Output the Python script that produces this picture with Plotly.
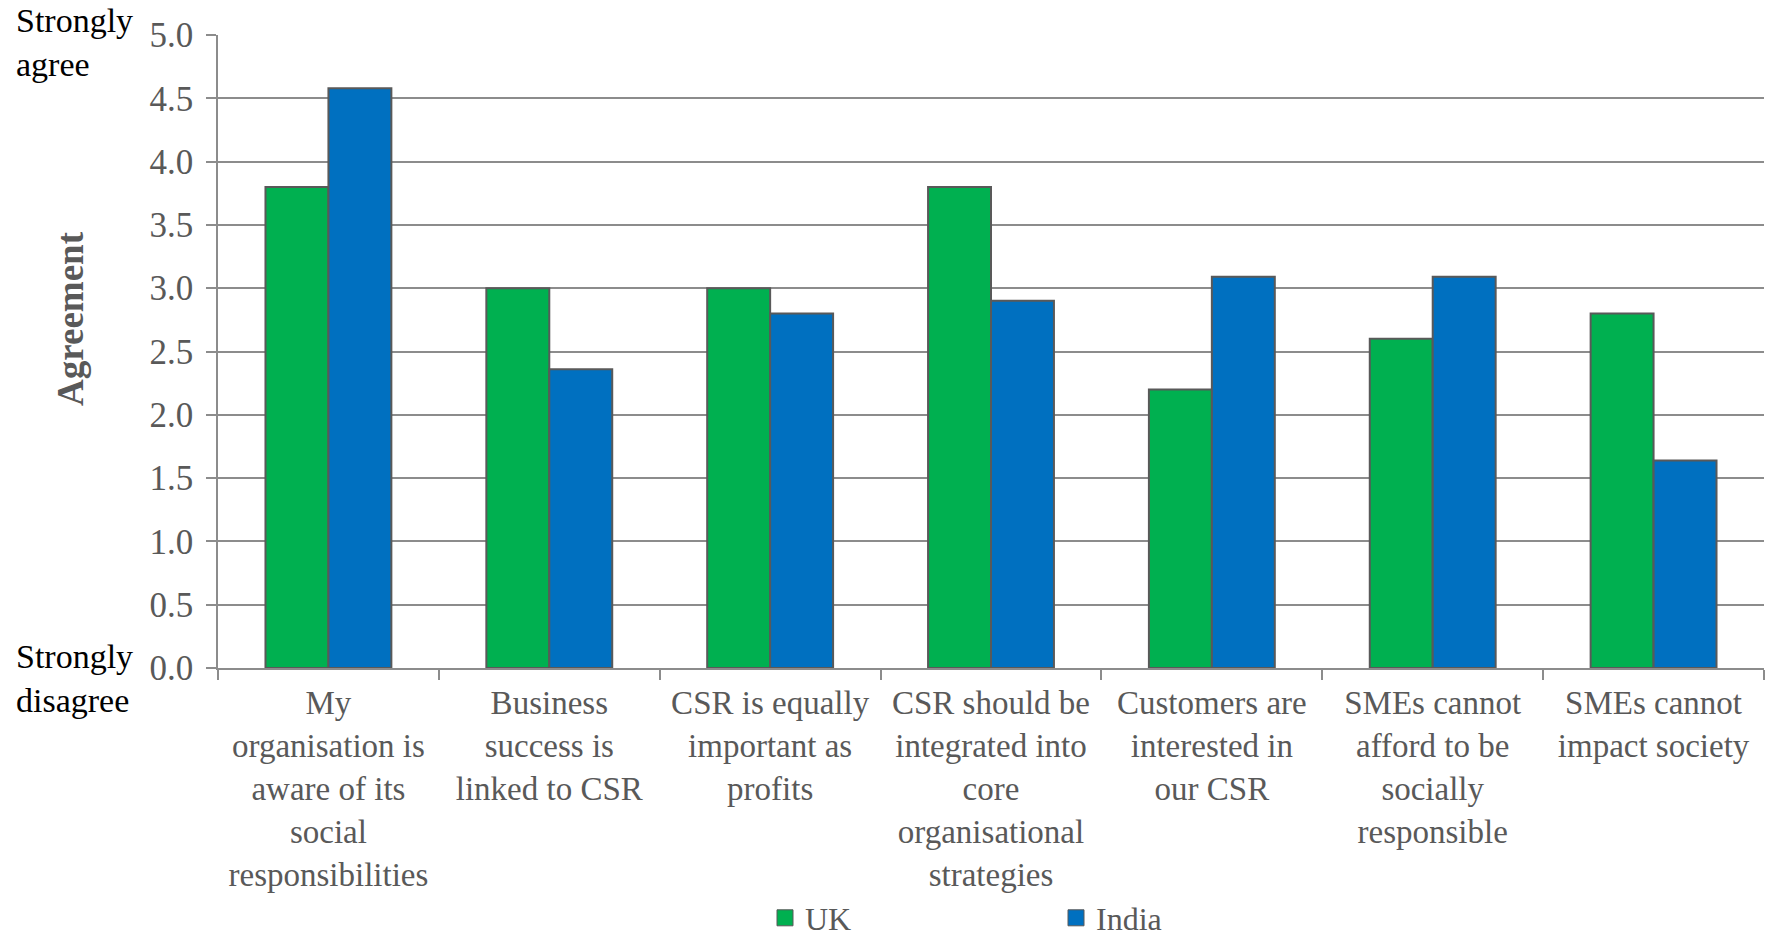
import plotly.graph_objects as go

categories = [
    "My<br>organisation is<br>aware of its<br>social<br>responsibilities",
    "Business<br>success is<br>linked to CSR",
    "CSR is equally<br>important as<br>profits",
    "CSR should be<br>integrated into<br>core<br>organisational<br>strategies",
    "Customers are<br>interested in<br>our CSR",
    "SMEs cannot<br>afford to be<br>socially<br>responsible",
    "SMEs cannot<br>impact society",
]
uk_values = [3.8, 3.0, 3.0, 3.8, 2.2, 2.6, 2.8]
india_values = [4.58, 2.36, 2.8, 2.9, 3.09, 3.09, 1.64]
series_names = ["UK", "India"]
series_colors = ["#00B050", "#0070C0"]
y_ticks = [0.0, 0.5, 1.0, 1.5, 2.0, 2.5, 3.0, 3.5, 4.0, 4.5, 5.0]

W, H = 1768, 937
ML, MR, MT, MB = 218, 4, 35, 269
PW = W - ML - MR
PH = H - MT - MB

FONT = "Liberation Serif"
GRAY = "#595959"
LINE = "#8c8c8c"

fig = go.Figure()
for name, vals, col in zip(series_names, [uk_values, india_values], series_colors):
    fig.add_trace(go.Bar(
        x=categories, y=vals, name=name, legendgroup=name, showlegend=False,
        marker=dict(color=col, line=dict(color="#595959", width=2)),
    ))
# legend entries (square swatches)
for name, col in zip(series_names, series_colors):
    fig.add_trace(go.Scatter(
        x=[None], y=[None], name=name, legendgroup=name, mode="markers",
        marker=dict(symbol="square", size=18, color=col,
                    line=dict(color="#595959", width=1)),
        hoverinfo="skip",
    ))


def px_x(p):
    return (p - ML) / PW


def px_y(p):
    return (H - MB - p) / PH


fig.update_layout(
    width=W, height=H,
    margin=dict(l=ML, r=MR, t=MT, b=MB, pad=0, autoexpand=False),
    paper_bgcolor="white", plot_bgcolor="white",
    barmode="group", bargap=0.43, bargroupgap=0,
    font=dict(family=FONT, size=33, color=GRAY),
    showlegend=True,
    legend=dict(
        orientation="h", xref="container", yref="container",
        x=765 / W, xanchor="left",
        y=1 - 918 / H, yanchor="middle",
        entrywidth=246, entrywidthmode="pixels",
        font=dict(family=FONT, size=32, color=GRAY),
        itemwidth=30, bgcolor="rgba(0,0,0,0)",
    ),
    xaxis=dict(
        automargin=False,
        showgrid=False, showline=True, linecolor=LINE, linewidth=1.5,
        ticks="outside", ticklen=10, tickcolor=LINE, tickwidth=1.5,
        tickson="boundaries", tickangle=0,
        tickfont=dict(family=FONT, size=33, color=GRAY),
        ticklabelstandoff=5,
    ),
    yaxis=dict(
        automargin=False,
        range=[0, 5], tickvals=y_ticks, tickformat=".1f",
        showgrid=True, gridcolor=LINE, gridwidth=1.5,
        showline=True, linecolor=LINE, linewidth=1.5,
        ticks="outside", ticklen=10, tickcolor=LINE, tickwidth=1.5,
        tickfont=dict(family=FONT, size=35, color=GRAY),
        ticklabelstandoff=6,
        zeroline=False,
    ),
    annotations=[
        dict(text="Strongly<br>agree", xref="paper", yref="paper",
             x=px_x(14), y=px_y(0), xanchor="left", yanchor="top",
             showarrow=False, align="left",
             font=dict(family=FONT, size=34, color="black")),
        dict(text="Strongly<br>disagree", xref="paper", yref="paper",
             x=px_x(14), y=px_y(636), xanchor="left", yanchor="top",
             showarrow=False, align="left",
             font=dict(family=FONT, size=34, color="black")),
        dict(text="<b>Agreement</b>", xref="paper", yref="paper",
             x=px_x(70), y=px_y(319), xanchor="center", yanchor="middle",
             textangle=-90, showarrow=False,
             font=dict(family=FONT, size=37, color=GRAY)),
    ],
)

fig.write_html(
    "out.html",
    config={"displayModeBar": False},
    post_script="document.body.style.margin='0px';document.body.style.overflow='hidden';",
)
